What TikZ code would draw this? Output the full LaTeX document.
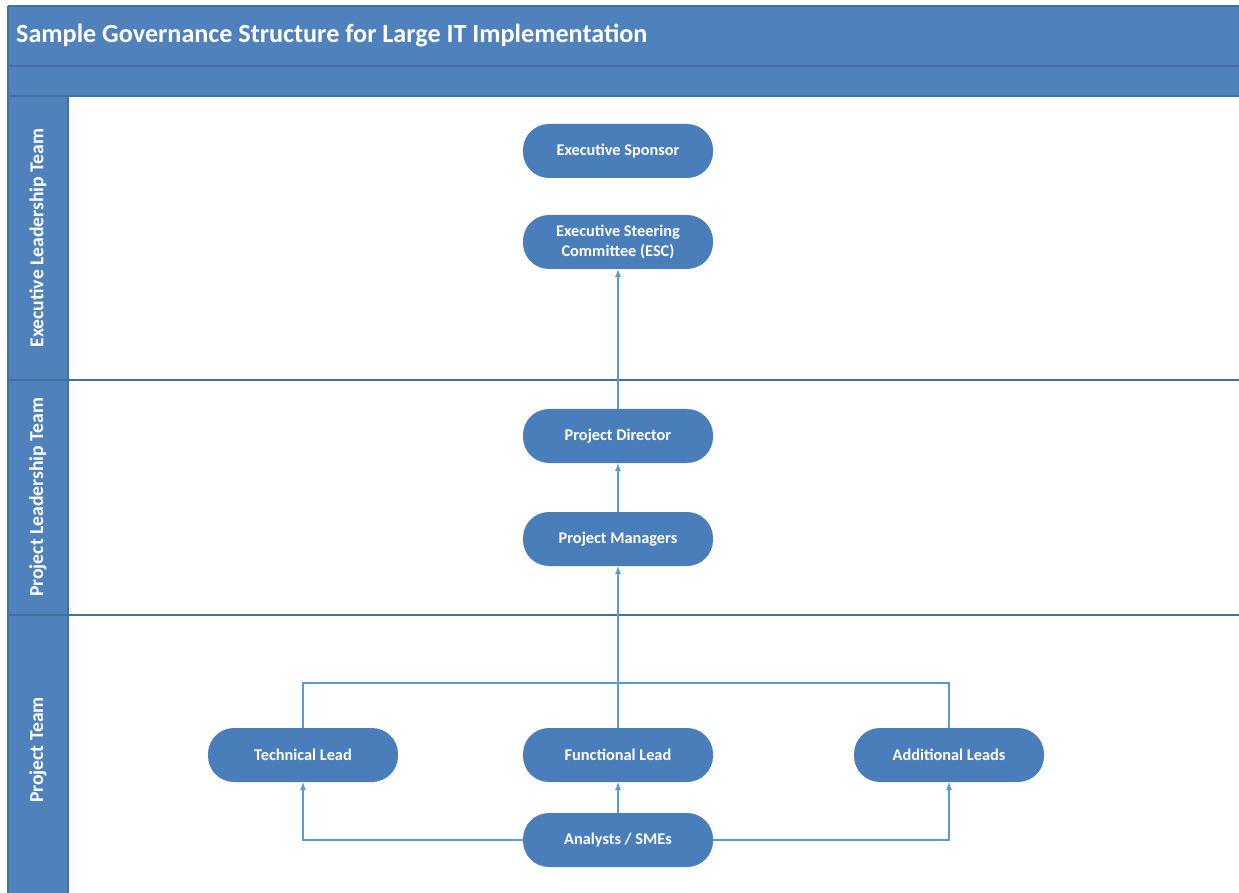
\documentclass[tikz,border=0pt]{standalone}
\usepackage{fontspec}
\setmainfont{Carlito}
\usetikzlibrary{arrows,calc,positioning}
\definecolor{headblue}{HTML}{4F81BD}
\definecolor{nodeblue}{HTML}{4A7EBB}
\definecolor{lineblue}{HTML}{5B9BD5}
\definecolor{edgeblue}{HTML}{41719C}

\tikzset{
	role/.style={rounded corners=0.65cm, minimum height=1.35cm, minimum width=4.75cm,
		fill=nodeblue, text=white, align=center, font=\fontsize{11.6}{14}\selectfont\bfseries},
	lanelabel/.style={rotate=90, text=white, font=\fontsize{14}{16}\selectfont\bfseries},
	link/.style={draw=lineblue, line width=0.9pt}
}

\begin{document}
\begin{tikzpicture}
	\useasboundingbox (0,0) rectangle (30.975,-22.325);
	\fill[white] (0,0) rectangle (30.975,-22.325);

	% header and lane column
	\fill[headblue] (0.2,-0.15) rectangle (30.975,-2.4);
	\fill[headblue] (0.2,-2.4) rectangle (1.7,-22.325);
	\draw[edgeblue, line width=0.8pt] (0.2,-0.15) -- (30.975,-0.15);
	\draw[edgeblue, line width=0.8pt] (0.2,-0.15) -- (0.2,-22.325);
	\draw[edgeblue, line width=1pt] (0.2,-1.65) -- (30.975,-1.65);
	\draw[edgeblue, line width=0.8pt] (0.2,-2.4) -- (30.975,-2.4);
	\draw[edgeblue, line width=0.8pt] (1.7,-2.4) -- (1.7,-22.325);

	% lane separators
	\draw[edgeblue, line width=1pt] (0.2,-9.5) -- (30.975,-9.5);
	\draw[edgeblue, line width=1pt] (0.2,-15.375) -- (30.975,-15.375);

	\begin{scope}[>=latex]
		\draw (0.28,-0.9) node[anchor=west, text=white, font=\fontsize{18.6}{22}\selectfont\bfseries](title)
					{Sample Governance Structure for Large IT Implementation};

		\draw (0.95,-5.95) node[lanelabel](exec) {Executive Leadership Team};
		\draw (0.95,-12.43) node[lanelabel](lead) {Project Leadership Team};
		\draw (0.95,-18.75) node[lanelabel](team) {Project Team};

		\draw (15.45,-3.775) node[role](sponsor) {Executive Sponsor};
		\draw (15.45,-6.05) node[role](esc) {Executive Steering\\Committee (ESC)};
		\draw (15.45,-10.9) node[role](director) {Project Director};
		\draw (15.45,-13.475) node[role](managers) {Project Managers};
		\draw (7.575,-18.875) node[role](techlead) {Technical Lead};
		\draw (15.45,-18.875) node[role](funclead) {Functional Lead};
		\draw (23.725,-18.875) node[role](addlead) {Additional Leads};
		\draw (15.45,-21.0) node[role](analysts) {Analysts / SMEs};

		\draw (15.45,-17.075) coordinate(bar);

		\draw [link,->] (director) -- (esc);
		\draw [link,->] (managers) -- (director);
		\draw [link,->] (funclead) -- (managers);
		\draw [link] (techlead.north) |- (bar) -| (addlead.north);
		\draw [link,->] (analysts) -- (funclead);
		\draw [link,->] (analysts) -| (techlead);
		\draw [link,->] (analysts) -| (addlead);
	\end{scope}
\end{tikzpicture}
\end{document}
